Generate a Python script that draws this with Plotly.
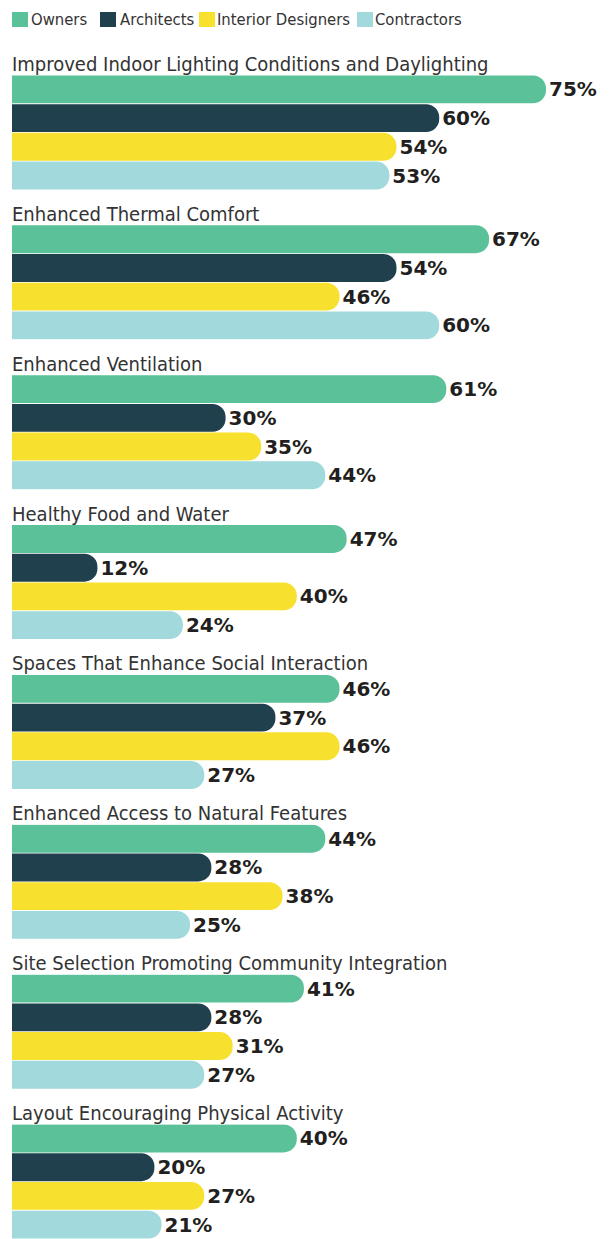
import plotly.graph_objects as go
from plotly.subplots import make_subplots

categories = [
    "Improved Indoor Lighting Conditions and Daylighting",
    "Enhanced Thermal Comfort",
    "Enhanced Ventilation",
    "Healthy Food and Water",
    "Spaces That Enhance Social Interaction",
    "Enhanced Access to Natural Features",
    "Site Selection Promoting Community Integration",
    "Layout Encouraging Physical Activity",
]
series_names = ["Owners", "Architects", "Interior Designers", "Contractors"]
owners = [75, 67, 61, 47, 46, 44, 41, 40]
architects = [60, 54, 30, 12, 37, 28, 28, 20]
interior_designers = [54, 46, 35, 40, 46, 38, 31, 27]
contractors = [53, 60, 44, 24, 27, 25, 27, 21]
colors = ["#5bc198", "#21404e", "#f8e12e", "#a2d9dc"]

series_values = [owners, architects, interior_designers, contractors]

# page body has an 8px margin, so the figure is sized to fill the 613x1239 window
W, H = 605, 1231
T, B, L, R = 67, 0, 4, 0
GAP = 35
plot_h = H - T - B

LABEL_FONT = "DejaVu Sans Condensed, Liberation Sans Narrow, sans-serif"

# legend layout (pixel offsets from the plot's left edge)
LEGEND_SWATCH_X = [0, 88, 187, 345]
LEGEND_SWATCH_W = 16
LEGEND_TEXT_SHIFT = [17, 106, 203, 361]

fig = make_subplots(rows=len(categories), cols=1, vertical_spacing=GAP / plot_h)

for i, cat in enumerate(categories):
    for j, name in enumerate(series_names):
        fig.add_trace(
            go.Bar(
                x=[series_values[j][i]],
                y=[name],
                orientation="h",
                width=0.97,
                name=name,
                legendgroup=name,
                showlegend=False,
                marker=dict(color=colors[j], cornerradius="50%", line=dict(width=0)),
                texttemplate="%{x}%",
                textposition="outside",
                constraintext="none",
                cliponaxis=False,
                textfont=dict(family="DejaVu Sans", size=20, color="#231f20", weight="bold"),
                hoverinfo="skip",
            ),
            row=i + 1,
            col=1,
        )
    suffix = "" if i == 0 else str(i + 1)
    fig.add_annotation(
        text=cat,
        xref=f"x{suffix} domain",
        yref=f"y{suffix} domain",
        x=0,
        y=1,
        xanchor="left",
        yanchor="bottom",
        showarrow=False,
        yshift=-3,
        xshift=-2,
        font=dict(family=LABEL_FONT, size=20, color="#333333"),
    )

# legend row: coloured swatches with series names
for j, name in enumerate(series_names):
    fig.add_shape(
        type="rect",
        xref="paper",
        yref="paper",
        xsizemode="pixel",
        ysizemode="pixel",
        xanchor=0,
        yanchor=1,
        x0=LEGEND_SWATCH_X[j],
        x1=LEGEND_SWATCH_X[j] + LEGEND_SWATCH_W,
        y0=48,
        y1=63,
        fillcolor=colors[j],
        line=dict(width=0),
        layer="above",
    )
    fig.add_annotation(
        text=name,
        xref="paper",
        yref="paper",
        x=0,
        y=1,
        xanchor="left",
        yanchor="middle",
        xshift=LEGEND_TEXT_SHIFT[j],
        yshift=55.5,
        showarrow=False,
        font=dict(family=LABEL_FONT, size=16.5, color="#333333"),
    )

fig.update_xaxes(range=[0, (W - L - R) / 7.12], visible=False, fixedrange=True)
fig.update_yaxes(
    type="category",
    categoryorder="array",
    categoryarray=series_names,
    range=[3.5, -0.5],
    visible=False,
    fixedrange=True,
)

fig.update_layout(
    width=W,
    height=H,
    margin=dict(l=L, r=R, t=T, b=B),
    barmode="overlay",
    plot_bgcolor="white",
    paper_bgcolor="white",
    showlegend=False,
)

fig.write_html("out.html")
